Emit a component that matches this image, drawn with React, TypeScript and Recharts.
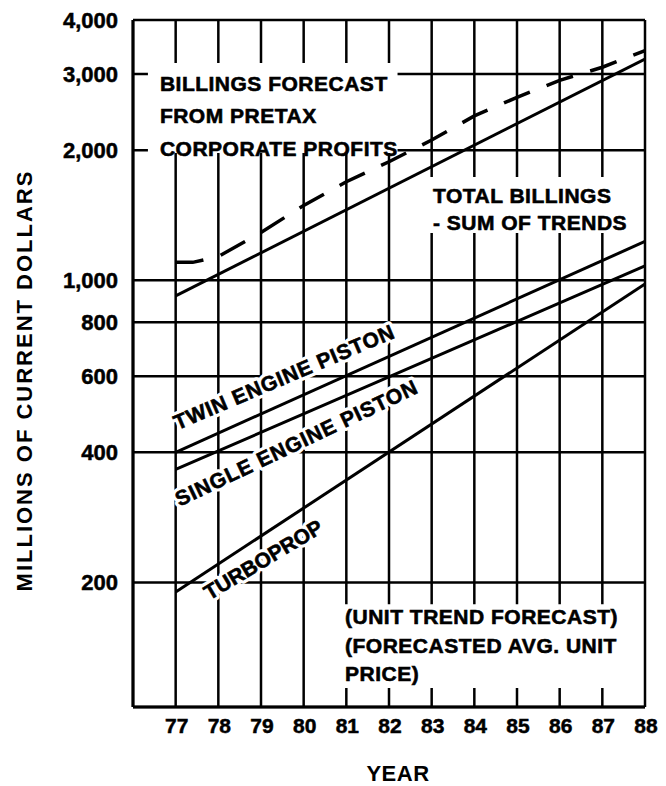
import React from 'react';
import {
  LineChart,
  Line,
  XAxis,
  YAxis,
  CartesianGrid,
  ReferenceArea,
  ReferenceDot,
} from 'recharts';

// Years on the horizontal axis (19xx)
const YEAR_TICKS = [77, 78, 79, 80, 81, 82, 83, 84, 85, 86, 87, 88];
// Millions of current dollars, log scale
const VALUE_TICKS = [200, 400, 600, 800, 1000, 2000, 3000, 4000];

// Trend lines (straight on the log scale between their end years)
const totalBillings = [
  { year: 77, value: 920 },
  { year: 88, value: 3250 },
];
const twinEnginePiston = [
  { year: 77, value: 400 },
  { year: 88, value: 1230 },
];
const singleEnginePiston = [
  { year: 77, value: 365 },
  { year: 88, value: 1080 },
];
const turboprop = [
  { year: 77, value: 190 },
  { year: 88, value: 980 },
];
// Billings forecast from pretax corporate profits
const pretaxForecast = [
  { year: 77, value: 1100 },
  { year: 77.4, value: 1100 },
  { year: 78, value: 1135 },
  { year: 79, value: 1290 },
  { year: 80, value: 1490 },
  { year: 81, value: 1690 },
  { year: 82, value: 1880 },
  { year: 83, value: 2110 },
  { year: 84, value: 2400 },
  { year: 85, value: 2650 },
  { year: 86, value: 2900 },
  { year: 87, value: 3110 },
  { year: 88, value: 3400 },
];

const FONT = '"Liberation Sans", Arial, Helvetica, sans-serif';
const INK = '#000';

const X_DOMAIN: [number, number] = [76, 88];
const Y_DOMAIN: [number, number] = [103, 4000];

const blockText =
  (lines: string[], lineHeight: number) =>
  (p: any) => (
    <text
      x={p.cx}
      y={p.cy}
      fill={INK}
      stroke={INK}
      strokeWidth={0.6}
      fontFamily={FONT}
      fontWeight="bold"
      fontSize={21}
      letterSpacing={0.5}
      dominantBaseline="central"
    >
      {lines.map((t, i) => (
        <tspan key={i} x={p.cx} dy={i === 0 ? 0 : lineHeight}>
          {t}
        </tspan>
      ))}
    </text>
  );

const slantText =
  (label: string, angle: number, spacing: number) =>
  (p: any) => {
    const common = {
      x: p.cx,
      y: p.cy,
      transform: `rotate(${angle} ${p.cx} ${p.cy})`,
      fontFamily: FONT,
      fontWeight: 'bold',
      fontSize: 21,
      letterSpacing: spacing,
      textAnchor: 'middle' as const,
      dominantBaseline: 'central' as const,
    };
    return (
      <g>
        <text {...common} fill="#fff" stroke="#fff" strokeWidth={7} strokeLinejoin="round">
          {label}
        </text>
        <text {...common} fill={INK} stroke={INK} strokeWidth={0.6}>
          {label}
        </text>
      </g>
    );
  };

const YTick = (p: any) => (
  <text
    x={p.x}
    y={p.y}
    fill={INK}
    stroke={INK}
    strokeWidth={0.5}
    fontFamily={FONT}
    fontWeight="bold"
    fontSize={22}
    textAnchor="end"
    dominantBaseline="central"
  >
    {Number(p.payload.value).toLocaleString('en-US')}
  </text>
);

const XTick = (p: any) => (
  <text
    x={p.x + 1}
    y={p.y + 18}
    fill={INK}
    stroke={INK}
    strokeWidth={0.5}
    fontFamily={FONT}
    fontWeight="bold"
    fontSize={21}
    textAnchor="middle"
    dominantBaseline="central"
  >
    {p.payload.value}
  </text>
);

const YTitle = (p: any) => {
  const vb = p.viewBox || {};
  const x = (vb.x ?? 0) + 16;
  const y = (vb.y ?? 0) + (vb.height ?? 0) / 2 + 17;
  return (
    <text
      x={x}
      y={y}
      transform={`rotate(-90 ${x} ${y})`}
      fill={INK}
      fontFamily={FONT}
      fontWeight="bold"
      fontSize={22}
      letterSpacing={2}
      textAnchor="middle"
      dominantBaseline="central"
    >
      MILLIONS OF CURRENT DOLLARS
    </text>
  );
};

const XTitle = (p: any) => {
  const vb = p.viewBox || {};
  const x = (vb.x ?? 0) + (vb.width ?? 0) / 2 + 9;
  const y = (vb.y ?? 0) + 66;
  return (
    <text
      x={x}
      y={y}
      fill={INK}
      fontFamily={FONT}
      fontWeight="bold"
      fontSize={22}
      letterSpacing={0.5}
      textAnchor="middle"
      dominantBaseline="central"
    >
      YEAR
    </text>
  );
};

export default function App() {
  return (
    <LineChart
      width={658}
      height={778}
      margin={{ top: 12, right: 21, bottom: 0, left: 0 }}
      style={{ background: '#fff' }}
    >
      <CartesianGrid stroke={INK} strokeWidth={2.5} zIndex={-100} />
      <XAxis
        type="number"
        dataKey="year"
        domain={X_DOMAIN}
        ticks={YEAR_TICKS}
        interval={0}
        allowDataOverflow
        height={79}
        axisLine={{ stroke: INK, strokeWidth: 3 }}
        tickLine={false}
        tickSize={0}
        tickMargin={0}
        tick={<XTick />}
        label={<XTitle />}
      />
      <YAxis
        type="number"
        scale="log"
        domain={Y_DOMAIN}
        ticks={VALUE_TICKS}
        interval={0}
        allowDataOverflow
        width={125}
        axisLine={{ stroke: INK, strokeWidth: 3 }}
        tickLine={false}
        tickSize={0}
        tickMargin={15}
        tick={<YTick />}
        label={<YTitle />}
      />

      {/* white panels behind the text blocks */}
      <ReferenceArea x1={76.35} x2={82.2} y1={1970} y2={3180} fill="#fff" fillOpacity={1} stroke="none" zIndex={-50} />
      <ReferenceArea x1={82.9} x2={87.85} y1={1287} y2={1734} fill="#fff" fillOpacity={1} stroke="none" zIndex={-50} />
      <ReferenceArea x1={80.85} x2={87.7} y1={114} y2={178} fill="#fff" fillOpacity={1} stroke="none" zIndex={-50} />

      <ReferenceDot
        x={76.63}
        y={2860}
        r={0}
        zIndex={-40}
        shape={blockText(['BILLINGS FORECAST', 'FROM PRETAX', 'CORPORATE PROFITS'], 32.5)}
      />
      <ReferenceDot
        x={83.03}
        y={1575}
        r={0}
        zIndex={-40}
        shape={blockText(['TOTAL BILLINGS', '- SUM OF TRENDS'], 27.5)}
      />
      <ReferenceDot
        x={80.97}
        y={167}
        r={0}
        zIndex={-40}
        shape={blockText(['(UNIT TREND FORECAST)', '(FORECASTED AVG. UNIT', 'PRICE)'], 28.5)}
      />
      <ReferenceDot x={79.54} y={598} r={0} zIndex={-40} shape={slantText('TWIN ENGINE PISTON', -23, 0.8)} />
      <ReferenceDot x={79.83} y={421} r={0} zIndex={-40} shape={slantText('SINGLE ENGINE PISTON', -25.5, 0.9)} />
      <ReferenceDot x={79.05} y={226} r={0} zIndex={-40} shape={slantText('TURBOPROP', -31, 0)} />

      <Line data={totalBillings} dataKey="value" type="linear" stroke={INK} strokeWidth={3} dot={false} isAnimationActive={false} />
      <Line
        data={pretaxForecast}
        dataKey="value"
        type="linear"
        stroke={INK}
        strokeWidth={3.5}
        strokeDasharray="28 18"
        dot={false}
        isAnimationActive={false}
      />
      <Line data={twinEnginePiston} dataKey="value" type="linear" stroke={INK} strokeWidth={3} dot={false} isAnimationActive={false} />
      <Line data={singleEnginePiston} dataKey="value" type="linear" stroke={INK} strokeWidth={3} dot={false} isAnimationActive={false} />
      <Line data={turboprop} dataKey="value" type="linear" stroke={INK} strokeWidth={3} dot={false} isAnimationActive={false} />
    </LineChart>
  );
}
